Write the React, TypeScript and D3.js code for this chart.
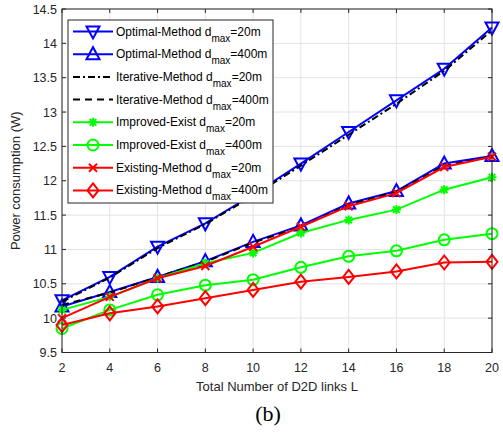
import React from "react";
import * as d3 from "d3";

const links = [2, 4, 6, 8, 10, 12, 14, 16, 18, 20];

const optimal20 = [10.26, 10.6, 11.04, 11.38, 11.8, 12.25, 12.71, 13.17, 13.63, 14.23];
const optimal400 = [10.17, 10.38, 10.6, 10.83, 11.11, 11.35, 11.67, 11.85, 12.25, 12.36];
const iterative20 = [10.24, 10.59, 11.02, 11.37, 11.78, 12.22, 12.67, 13.12, 13.6, 14.19];
const iterative400 = [10.19, 10.37, 10.6, 10.82, 11.1, 11.33, 11.65, 11.84, 12.22, 12.35];
const improved20 = [10.12, 10.31, 10.58, 10.8, 10.95, 11.24, 11.43, 11.58, 11.87, 12.05];
const improved400 = [9.85, 10.12, 10.34, 10.48, 10.56, 10.74, 10.9, 10.98, 11.14, 11.23];
const existing20 = [10.0, 10.31, 10.58, 10.76, 11.04, 11.33, 11.63, 11.82, 12.2, 12.35];
const existing400 = [9.9, 10.07, 10.17, 10.29, 10.41, 10.53, 10.6, 10.68, 10.81, 10.82];

const xTicks = [2, 4, 6, 8, 10, 12, 14, 16, 18, 20];
const yTicks = [9.5, 10, 10.5, 11, 11.5, 12, 12.5, 13, 13.5, 14, 14.5];

type Series = {
  name: string;
  dmax: string;
  values: number[];
  color: string;
  dash?: string;
  marker?: string;
};

const series: Series[] = [
  { name: "Optimal-Method d", dmax: "=20m", values: optimal20, color: "#0000ff", marker: "down" },
  { name: "Optimal-Method d", dmax: "=400m", values: optimal400, color: "#0000ff", marker: "up" },
  { name: "Iterative-Method d", dmax: "=20m", values: iterative20, color: "#000000", dash: "7,3,2,3" },
  { name: "Iterative-Method d", dmax: "=400m", values: iterative400, color: "#000000", dash: "7,5" },
  { name: "Improved-Exist d", dmax: "=20m", values: improved20, color: "#00ff00", marker: "star" },
  { name: "Improved-Exist d", dmax: "=400m", values: improved400, color: "#00ff00", marker: "circle" },
  { name: "Existing-Method d", dmax: "=20m", values: existing20, color: "#ff0000", marker: "x" },
  { name: "Existing-Method d", dmax: "=400m", values: existing400, color: "#ff0000", marker: "diamond" },
];

const left = 62;
const right = 492;
const top = 9;
const bottom = 352.5;

function Marker({ kind, x, y, color }: { kind?: string; x: number; y: number; color: string }) {
  const common = { fill: "none", stroke: color, strokeWidth: 2 };
  if (kind === "down") {
    return <path d={`M${x - 6.5},${y - 5} L${x + 6.5},${y - 5} L${x},${y + 7} Z`} {...common} />;
  }
  if (kind === "up") {
    return <path d={`M${x - 6.5},${y + 5} L${x + 6.5},${y + 5} L${x},${y - 7} Z`} {...common} />;
  }
  if (kind === "circle") {
    return <circle cx={x} cy={y} r={5.5} {...common} />;
  }
  if (kind === "diamond") {
    return <path d={`M${x},${y - 7} L${x + 5.5},${y} L${x},${y + 7} L${x - 5.5},${y} Z`} {...common} />;
  }
  if (kind === "x") {
    const s = 4;
    return <path d={`M${x - s},${y - s} L${x + s},${y + s} M${x - s},${y + s} L${x + s},${y - s}`} {...common} />;
  }
  if (kind === "star") {
    const s = 4.5;
    const t = 3.3;
    return (
      <path
        d={`M${x - s},${y} L${x + s},${y} M${x},${y - s} L${x},${y + s} M${x - t},${y - t} L${x + t},${y + t} M${x - t},${y + t} L${x + t},${y - t}`}
        {...common}
      />
    );
  }
  return null;
}

export default function App() {
  const x = d3.scaleLinear().domain([2, 20]).range([left, right]);
  const y = d3.scaleLinear().domain([9.5, 14.5]).range([bottom, top]);

  const line = d3
    .line<number>()
    .x((_, i) => x(links[i]))
    .y((d) => y(d));

  const font = "'Liberation Sans', Arial, sans-serif";

  const legX = 68;
  const legY = 20;
  const legW = 205;
  const legH = 183;
  const rowH = 22.7;

  return (
    <svg width={503} height={434} style={{ position: "absolute", left: 0, top: 0 }}>
      <rect x={0} y={0} width={503} height={434} fill="#fff" />

      {/* grid */}
      <g stroke="#e3e3e3" strokeWidth={1}>
        {xTicks.map((t) => (
          <line key={"gx" + t} x1={x(t)} x2={x(t)} y1={top} y2={bottom} />
        ))}
        {yTicks.map((t) => (
          <line key={"gy" + t} x1={left} x2={right} y1={y(t)} y2={y(t)} />
        ))}
      </g>

      {/* ticks */}
      <g stroke="#262626" strokeWidth={1}>
        {xTicks.map((t) => (
          <g key={"tx" + t}>
            <line x1={x(t)} x2={x(t)} y1={bottom} y2={bottom - 4} />
            <line x1={x(t)} x2={x(t)} y1={top} y2={top + 4} />
          </g>
        ))}
        {yTicks.map((t) => (
          <g key={"ty" + t}>
            <line x1={left} x2={left + 4} y1={y(t)} y2={y(t)} />
            <line x1={right} x2={right - 4} y1={y(t)} y2={y(t)} />
          </g>
        ))}
      </g>

      {/* series */}
      {series.map((s, i) => (
        <g key={"s" + i}>
          <path d={line(s.values) || ""} fill="none" stroke={s.color} strokeWidth={2} strokeDasharray={s.dash} />
          {s.marker &&
            s.values.map((v, j) => <Marker key={j} kind={s.marker} x={x(links[j])} y={y(v)} color={s.color} />)}
        </g>
      ))}

      {/* box */}
      <rect x={left} y={top} width={right - left} height={bottom - top} fill="none" stroke="#262626" strokeWidth={1} />

      {/* tick labels */}
      <g fontFamily={font} fontSize={12.5} fill="#262626">
        {xTicks.map((t) => (
          <text key={"lx" + t} x={x(t)} y={bottom + 19} textAnchor="middle">
            {t}
          </text>
        ))}
        {yTicks.map((t) => (
          <text key={"ly" + t} x={left - 5} y={y(t) + 4.5} textAnchor="end">
            {t}
          </text>
        ))}
      </g>

      {/* axis labels */}
      <text x={277} y={391} textAnchor="middle" fontFamily={font} fontSize={13} fill="#262626">
        Total Number of D2D links L
      </text>
      <text
        transform={`translate(20,${(top + bottom) / 2}) rotate(-90)`}
        textAnchor="middle"
        fontFamily={font}
        fontSize={13}
        fill="#262626"
      >
        Power consumption (W)
      </text>
      <text x={268} y={421} textAnchor="middle" fontFamily="'Liberation Serif', 'DejaVu Serif', serif" fontSize={22} fill="#000">
        (b)
      </text>

      {/* legend */}
      <rect x={legX} y={legY} width={legW} height={legH} fill="#fff" stroke="#262626" strokeWidth={1} />
      {series.map((s, i) => {
        const cy = legY + 11.5 + i * rowH;
        return (
          <g key={"lg" + i}>
            <line x1={73} x2={113} y1={cy} y2={cy} stroke={s.color} strokeWidth={2} strokeDasharray={s.dash} />
            <Marker kind={s.marker} x={93} y={cy} color={s.color} />
            <text x={116} y={cy + 4} fontFamily={font} fontSize={12} fill="#000">
              {s.name}
              <tspan fontSize={10} dy={6}>max</tspan>
              <tspan dy={-6}>{s.dmax}</tspan>
            </text>
          </g>
        );
      })}
    </svg>
  );
}
